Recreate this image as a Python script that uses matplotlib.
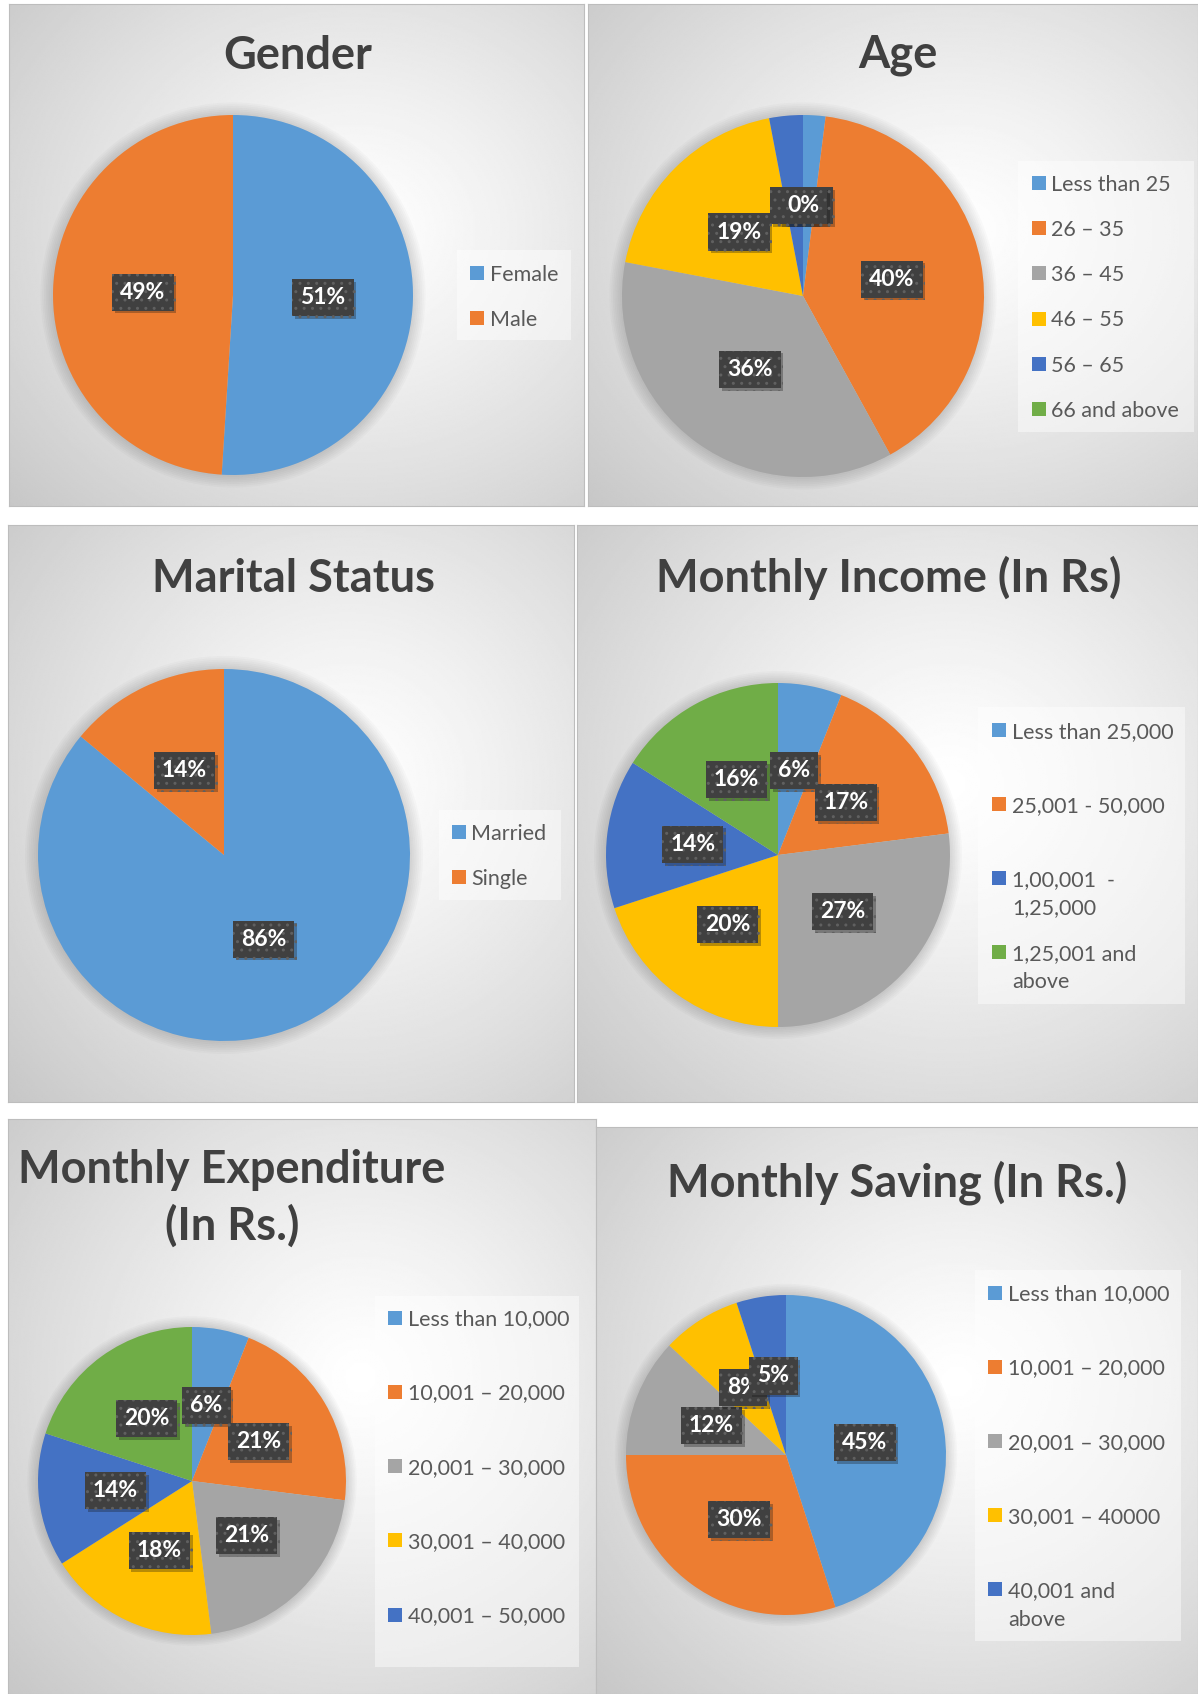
import numpy as np
import matplotlib
matplotlib.use('Agg')
import matplotlib.pyplot as plt
from matplotlib.patches import Rectangle, Circle
import matplotlib.patheffects as pe

plt.rcParams['font.family'] = ['Lato', 'DejaVu Sans']

W, H = 1198, 1694

# Office palette
colors = ['#5B9BD5', '#ED7D31', '#A5A5A5', '#FFC000', '#4472C4', '#70AD47']

gender_labels = ['Female', 'Male']
gender_values = [51, 49]

age_labels = ['Less than 25', '26 – 35', '36 – 45', '46 – 55', '56 – 65', '66 and above']
age_values = [2, 40, 36, 19, 3, 0]

marital_labels = ['Married', 'Single']
marital_values = [86, 14]

income_values = [6, 17, 27, 20, 14, 16]
income_labels = ['Less than 25,000', '25,001 - 50,000', '1,00,001  -\n1,25,000', '1,25,001 and\nabove']
income_label_idx = [0, 1, 4, 5]

expend_values = [6, 21, 21, 18, 14, 20]
expend_labels = ['Less than 10,000', '10,001 – 20,000', '20,001 – 30,000',
                 '30,001 – 40,000', '40,001 – 50,000']

saving_values = [45, 30, 12, 8, 5]
saving_labels = ['Less than 10,000', '10,001 – 20,000', '20,001 – 30,000',
                 '30,001 – 40000', '40,001 and\nabove']

TITLE_C = '#404040'
LEG_C = '#595959'


def frac_rect(x0, y0, x1, y1):
    return [x0 / W, 1 - y1 / H, (x1 - x0) / W, (y1 - y0) / H]


def fxy(x, y):
    return (x / W, 1 - y / H)


fig = plt.figure(figsize=(W / 100, H / 100), dpi=100)
fig.patch.set_facecolor('white')


def draw_panel(rect, title, title_xy, center, r, values, labels, label_idx,
               box, sq_x, txt_x, first_y, step):
    # radial grey background
    ax_bg = fig.add_axes(frac_rect(*rect))
    yy, xx = np.mgrid[0:1:300j, 0:1:300j]
    d = np.hypot(xx - 0.6, yy - 0.45)
    d = d / d.max()
    shade = 1.0 - 0.22 * d ** 1.2
    ax_bg.imshow(shade, cmap='gray', vmin=0, vmax=1, extent=(0, 1, 0, 1),
                 aspect='auto', interpolation='bilinear')
    ax_bg.set_xticks([])
    ax_bg.set_yticks([])
    for s in ax_bg.spines.values():
        s.set_color('#bdbdbd')
        s.set_linewidth(0.8)

    # title, one line at a time (wrapped like the original)
    tx, ty = title_xy
    for i, line in enumerate(title.split('\n')):
        fig.text(*fxy(tx, ty + i * 57), line, ha='center', va='baseline',
                 fontsize=32.5, fontweight='bold', color=TITLE_C)

    # pie
    cx, cy = center
    ax = fig.add_axes(frac_rect(cx - r, cy - r, cx + r, cy + r))
    for rr in np.linspace(1.07, 1.0, 8):
        ax.add_patch(Circle((0, 0), rr, color='k', alpha=0.018, lw=0,
                            clip_on=False))
    wedges, texts, autotexts = ax.pie(
        values, colors=colors[:len(values)], startangle=90, counterclock=False,
        autopct='%1.0f%%', pctdistance=0.5, wedgeprops=dict(linewidth=0),
        textprops=dict(color='white', fontsize=16.5, fontweight='bold'))
    ax.set_xlim(-1, 1)
    ax.set_ylim(-1, 1)
    for t in autotexts:
        t.set_bbox(dict(boxstyle='square,pad=0.35', fc='#404040', ec='#606060',
                        lw=0, hatch='..'))
        t.get_bbox_patch().set_path_effects(
            [pe.SimplePatchShadow(offset=(2, -2), alpha=0.3), pe.Normal()])

    # legend
    bx0, by0, bx1, by1 = box
    fig.add_artist(Rectangle(fxy(bx0, by1), (bx1 - bx0) / W, (by1 - by0) / H,
                             transform=fig.transFigure, fc='white', alpha=0.45,
                             lw=0, zorder=1))
    sq = 14
    cap = 0.72 * 15.5 * 100 / 72
    for i, (lab, ci) in enumerate(zip(labels, label_idx)):
        y = first_y + i * step
        fig.add_artist(Rectangle(fxy(sq_x, y + sq / 2), sq / W, sq / H,
                                 transform=fig.transFigure, fc=colors[ci],
                                 lw=0, zorder=2))
        for j, line in enumerate(lab.split('\n')):
            fig.text(*fxy(txt_x, y + cap / 2 + j * 28.5), line, ha='left',
                     va='baseline', fontsize=15.5, color=LEG_C)


draw_panel((9, 4, 584, 506), 'Gender', (298, 69), (233, 295), 180,
           gender_values, gender_labels, [0, 1],
           (457, 250, 571, 340), 470, 490, 273, 45)

draw_panel((588, 4, 1198, 506), 'Age', (898, 68), (803, 296), 181,
           age_values, age_labels, list(range(6)),
           (1018, 161, 1194, 432), 1032, 1051, 183, 45.2)

draw_panel((8, 525, 574, 1102), 'Marital Status', (293, 592), (224, 855), 186,
           marital_values, marital_labels, [0, 1],
           (439, 810, 561, 900), 452, 471, 832, 45)

draw_panel((577, 525, 1198, 1102), 'Monthly Income (In Rs)', (889, 592),
           (778, 855), 172, income_values, income_labels, income_label_idx,
           (978, 707, 1185, 1004), 992, 1012, 730, 74)

draw_panel((8, 1119, 596, 1694), 'Monthly Expenditure\n(In Rs.)', (232, 1183),
           (192, 1481), 154, expend_values, expend_labels, list(range(5)),
           (375, 1296, 579, 1667), 388, 408, 1317.5, 74.3)

draw_panel((596, 1127, 1198, 1694), 'Monthly Saving (In Rs.)', (897, 1196),
           (786, 1455), 160, saving_values, saving_labels, list(range(5)),
           (975, 1270, 1181, 1641), 988, 1008, 1292.5, 74.2)

fig.savefig('out.png', dpi=100)
